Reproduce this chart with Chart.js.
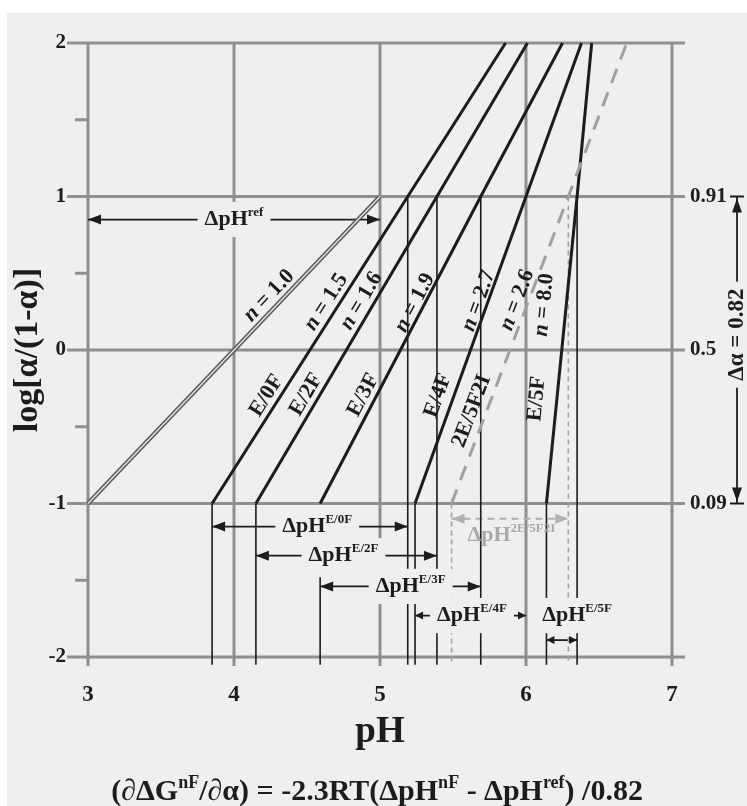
<!DOCTYPE html>
<html>
<head>
<meta charset="utf-8">
<title>log[α/(1-α)] vs pH</title>
<script src="https://cdn.jsdelivr.net/npm/chart.js@4.4.1/dist/chart.umd.min.js"></script>
<style>
  html, body { margin: 0; padding: 0; background: #efefef; }
  canvas { display: block; }
</style>
</head>
<body>
<canvas id="chart" width="747" height="806"></canvas>
<script>
// axis ticks
const pHTicks = [3, 4, 5, 6, 7];
const logTicks = [-2, -1, 0, 1, 2];
const minorLogTicks = [-1.5, -0.5, 0.5, 1.5];

// reference line (n = 1.0)
const refPH = [3.0, 5.0];
const refLog = [-1, 1];

// the other lines, pH read where log = -1, +1 and +2
const curveNames = ['E/0F', 'E/2F', 'E/3F', 'E/4F', '2E/5F2I', 'E/5F'];
const hillN = ['1.5', '1.6', '1.9', '2.7', '2.6', '8.0'];
const curveLog = [-1, 1, 2];
const pHAtLow = [3.85, 4.15, 4.59, 5.24, 5.49, 6.14];
const pHAtHigh = [5.19, 5.39, 5.69, 6.00, 6.29, 6.35];
const pHAtTop = [5.86, 6.01, 6.25, 6.38, 6.69, 6.45];

// ΔpH spans
const spanNames = ['ref', 'E/0F', 'E/2F', 'E/3F', 'E/4F', 'E/5F', '2E/5F2I'];
const spanFrom = [3.0, 3.85, 4.15, 4.59, 5.24, 6.14, 5.49];
const spanTo = [5.0, 5.19, 5.39, 5.69, 6.00, 6.35, 6.29];
const spanLog = [0.85, -1.15, -1.34, -1.54, -1.73, -1.89, -1.10];

// thin drop lines
const dropPH = [3.85, 4.15, 4.59, 5.19, 5.24, 5.39, 5.69, 6.14, 6.35];
const dropTop = [-1, -1, -1.48, 1, -1, 1, 1, -1, 1];
const dashDropPH = [5.49, 6.29];
const dashDropTop = [-1, 1];
const dropBottom = -2.05;

// alpha values on the right
const alphaLabels = ['0.91', '0.5', '0.09'];
const alphaLog = [1, 0, -1];
const deltaAlpha = '0.82';

// label placement (along a line at a given log, gap in px to the left of it)
const nLabelLog = [0.30, 0.27, 0.28, 0.28, 0.30, 0.30, 0.28];
const nLabelGap = [12, 12, 12, 9, 9, 11, 22];
const nameLabelLog = [-0.34, -0.33, -0.33, -0.33, -0.43, -0.33];
const nameLabelGap = [12, 12, 12, 15, 14, 20];
const spanLabelAt = [[4.0, 0.85], [4.57, -1.15], [4.75, -1.34], [5.21, -1.54], [5.63, -1.73], [6.35, -1.73], [5.9, -1.21]];

const FAMILY = '"Liberation Serif", "Times New Roman", serif';
const INK = '#1c1c1c';
const GRID = '#8f8f8f';
const BG = '#efefef';
const DASH_GRAY = '#a0a0a0';

function fontFor(p, size) {
  const s = p.sup ? Math.round(size * 0.6) : size;
  return (p.it ? 'italic ' : '') + 'bold ' + s + 'px ' + FAMILY;
}

function rich(base, sup) {
  const parts = [{ t: base }];
  if (sup) parts.push({ t: sup, sup: true });
  return parts;
}

function drawRich(ctx, parts, cx, cy, size, color, bg, angle) {
  ctx.save();
  ctx.translate(cx, cy);
  if (angle) ctx.rotate(angle);
  let w = 0;
  parts.forEach(p => { ctx.font = fontFor(p, size); w += ctx.measureText(p.t).width; });
  if (bg) {
    ctx.fillStyle = bg;
    ctx.fillRect(-w / 2 - 7, -size * 0.8, w + 14, size * 1.6);
  }
  ctx.fillStyle = color;
  ctx.textBaseline = 'middle';
  ctx.textAlign = 'left';
  let x = -w / 2;
  parts.forEach(p => {
    ctx.font = fontFor(p, size);
    ctx.fillText(p.t, x, p.sup ? -size * 0.3 : 0);
    x += ctx.measureText(p.t).width;
  });
  ctx.restore();
}

function arrowHead(ctx, x, y, dx, dy, len, half, color) {
  ctx.save();
  ctx.fillStyle = color;
  ctx.beginPath();
  ctx.moveTo(x, y);
  ctx.lineTo(x - dx * len - dy * half, y - dy * len + dx * half);
  ctx.lineTo(x - dx * len + dy * half, y - dy * len - dx * half);
  ctx.closePath();
  ctx.fill();
  ctx.restore();
}

function curvePts(i) {
  return [pHAtLow[i], pHAtHigh[i], pHAtTop[i]].map((x, k) => ({ x: x, y: curveLog[k] }));
}

function pHOnCurve(xs, ys, log) {
  for (let k = 0; k < xs.length - 1; k++) {
    if (log >= ys[k] && log <= ys[k + 1]) {
      return xs[k] + (xs[k + 1] - xs[k]) * (log - ys[k]) / (ys[k + 1] - ys[k]);
    }
  }
  return xs[0];
}

const datasets = [];
curveNames.forEach((name, i) => {
  const dashed = name === '2E/5F2I';
  datasets.push({
    label: name,
    data: curvePts(i),
    showLine: true, pointRadius: 0, clip: false,
    borderColor: dashed ? DASH_GRAY : INK,
    borderWidth: 3,
    borderDash: dashed ? [15, 10] : []
  });
});
datasets.push({
  label: 'ref inner',
  data: refPH.map((x, k) => ({ x: x, y: refLog[k] })),
  showLine: true, pointRadius: 0, clip: false, borderColor: '#e4e4e4', borderWidth: 1.4
});
datasets.push({
  label: 'ref',
  data: refPH.map((x, k) => ({ x: x, y: refLog[k] })),
  showLine: true, pointRadius: 0, clip: false, borderColor: '#5a5a5a', borderWidth: 4.5
});
dropPH.forEach((x, i) => {
  datasets.push({
    label: 'drop ' + x,
    data: [{ x: x, y: dropTop[i] }, { x: x, y: dropBottom }],
    showLine: true, pointRadius: 0, clip: false, borderColor: INK, borderWidth: 1.6
  });
});
dashDropPH.forEach((x, i) => {
  datasets.push({
    label: 'dashed drop ' + x,
    data: [{ x: x, y: dashDropTop[i] }, { x: x, y: dropBottom }],
    showLine: true, pointRadius: 0, clip: false, borderColor: DASH_GRAY, borderWidth: 1.6, borderDash: [5, 4]
  });
});
spanNames.forEach((name, i) => {
  const dashed = name === '2E/5F2I';
  datasets.push({
    label: 'ΔpH ' + name,
    data: [{ x: spanFrom[i], y: spanLog[i] }, { x: spanTo[i], y: spanLog[i] }],
    showLine: true, pointRadius: 0, clip: false,
    borderColor: dashed ? '#b0b0b0' : INK, borderWidth: dashed ? 2 : 1.8,
    borderDash: dashed ? [7, 5] : []
  });
});

const decor = {
  id: 'decor',
  beforeDraw(chart) {
    const ctx = chart.ctx;
    ctx.save();
    ctx.fillStyle = '#ffffff';
    ctx.fillRect(0, 0, chart.width, chart.height);
    ctx.fillStyle = BG;
    ctx.fillRect(7, 13, chart.width - 7, chart.height - 13);
    ctx.restore();
  },
  beforeDatasetsDraw(chart) {
    const ctx = chart.ctx;
    const xs = chart.scales.x, ys = chart.scales.y;
    const X = v => xs.getPixelForValue(v), Y = v => ys.getPixelForValue(v);
    ctx.save();
    ctx.strokeStyle = GRID;
    ctx.lineWidth = 3;
    logTicks.forEach(v => {
      ctx.beginPath(); ctx.moveTo(X(3) - 21, Y(v)); ctx.lineTo(X(7) + 13, Y(v)); ctx.stroke();
    });
    pHTicks.forEach(v => {
      ctx.beginPath(); ctx.moveTo(X(v), Y(2)); ctx.lineTo(X(v), Y(-2) + 9); ctx.stroke();
    });
    minorLogTicks.forEach(v => {
      ctx.beginPath(); ctx.moveTo(X(3) - 13, Y(v)); ctx.lineTo(X(3), Y(v)); ctx.stroke();
    });
    ctx.restore();

    // n labels and species labels, along their lines
    const lines = [{ xs: refPH, ys: refLog }].concat(curveNames.map((n, i) => ({
      xs: [pHAtLow[i], pHAtHigh[i], pHAtTop[i]], ys: curveLog
    })));
    const place = (line, log, gap) => {
      const x0 = X(line.xs[0]), y0 = Y(line.ys[0]);
      const x1 = X(line.xs[line.xs.length - 1]), y1 = Y(line.ys[line.ys.length - 1]);
      const th = Math.atan2(y1 - y0, x1 - x0);
      const px = X(pHOnCurve(line.xs, line.ys, log)), py = Y(log);
      return { x: px + Math.sin(th) * gap, y: py - Math.cos(th) * gap, th: th };
    };
    const nVals = ['1.0'].concat(hillN);
    lines.forEach((line, i) => {
      const p = place(line, nLabelLog[i], nLabelGap[i]);
      drawRich(ctx, [{ t: 'n', it: true }, { t: ' = ' + nVals[i] }], p.x, p.y, 22, INK, null, p.th);
    });
    curveNames.forEach((name, i) => {
      const p = place(lines[i + 1], nameLabelLog[i], nameLabelGap[i]);
      drawRich(ctx, [{ t: name }], p.x, p.y, 22, INK, null, p.th);
    });
  },
  afterDatasetsDraw(chart) {
    const ctx = chart.ctx;
    const xs = chart.scales.x, ys = chart.scales.y;
    const X = v => xs.getPixelForValue(v), Y = v => ys.getPixelForValue(v);

    // span arrow heads and labels
    spanNames.forEach((name, i) => {
      const dashed = name === '2E/5F2I';
      const col = dashed ? '#b0b0b0' : INK;
      const small = name === 'E/5F' || name === 'E/4F';
      const len = small ? 8 : 13, half = small ? 4 : 5;
      arrowHead(ctx, X(spanFrom[i]), Y(spanLog[i]), -1, 0, len, half, col);
      arrowHead(ctx, X(spanTo[i]), Y(spanLog[i]), 1, 0, len, half, col);
      const at = spanLabelAt[i];
      drawRich(ctx, rich('ΔpH', name), X(at[0]), Y(at[1]), 22, dashed ? '#a9a9a9' : INK, dashed ? null : BG, 0);
    });

    // alpha labels and the Δα arrow on the right
    ctx.save();
    ctx.fillStyle = INK;
    ctx.font = 'bold 21px ' + FAMILY;
    ctx.textBaseline = 'middle';
    ctx.textAlign = 'left';
    alphaLabels.forEach((t, i) => ctx.fillText(t, X(7) + 18, Y(alphaLog[i])));
    const ax = X(7) + 65;
    ctx.strokeStyle = INK;
    ctx.lineWidth = 1.8;
    ctx.beginPath(); ctx.moveTo(ax, Y(1)); ctx.lineTo(ax, Y(-1)); ctx.stroke();
    ctx.beginPath();
    ctx.moveTo(ax - 7, Y(1)); ctx.lineTo(ax + 7, Y(1));
    ctx.moveTo(ax - 7, Y(-1)); ctx.lineTo(ax + 7, Y(-1));
    ctx.stroke();
    ctx.restore();
    arrowHead(ctx, ax, Y(1) + 2, 0, -1, 14, 5, INK);
    arrowHead(ctx, ax, Y(-1) - 2, 0, 1, 14, 5, INK);
    drawRich(ctx, [{ t: 'Δα = ' + deltaAlpha }], ax, Y(0.1), 23, INK, BG, -Math.PI / 2);

    // formula under the chart
    const parts = [
      { t: '(∂ΔG' }, { t: 'nF', sup: true }, { t: '/∂α) = -2.3RT(ΔpH' }, { t: 'nF', sup: true },
      { t: ' - ΔpH' }, { t: 'ref', sup: true }, { t: ') /0.82' }
    ];
    drawRich(ctx, parts, X(4.98), 792, 30, INK, null, 0);
  }
};

new Chart(document.getElementById('chart'), {
  type: 'scatter',
  data: { datasets: datasets },
  options: {
    responsive: false,
    animation: false,
    events: [],
    devicePixelRatio: 1,
    layout: { padding: { top: 43, right: 75, bottom: 0, left: 0 } },
    plugins: { legend: { display: false }, tooltip: { enabled: false } },
    scales: {
      x: {
        type: 'linear', min: 3, max: 7,
        afterBuildTicks: s => { s.ticks = pHTicks.map(v => ({ value: v })); },
        afterFit: s => { s.height = 149; },
        grid: { display: false, drawTicks: false },
        border: { display: false },
        ticks: { color: INK, padding: 24, font: { family: FAMILY, size: 23, weight: 'bold' } },
        title: { display: true, text: 'pH', color: INK, padding: { top: 0, bottom: 51 },
                 font: { family: FAMILY, size: 37, weight: 'bold' } }
      },
      y: {
        type: 'linear', min: -2, max: 2,
        afterBuildTicks: s => { s.ticks = logTicks.map(v => ({ value: v })); },
        afterFit: s => { s.width = 88; },
        grid: { display: false, drawTicks: false },
        border: { display: false },
        ticks: { color: INK, padding: 22, font: { family: FAMILY, size: 21, weight: 'bold' } },
        title: { display: true, text: 'log[α/(1-α)]', color: INK, padding: { top: 8, bottom: 0 },
                 font: { family: FAMILY, size: 34, weight: 'bold' } }
      }
    }
  },
  plugins: [decor]
});
</script>
</body>
</html>
